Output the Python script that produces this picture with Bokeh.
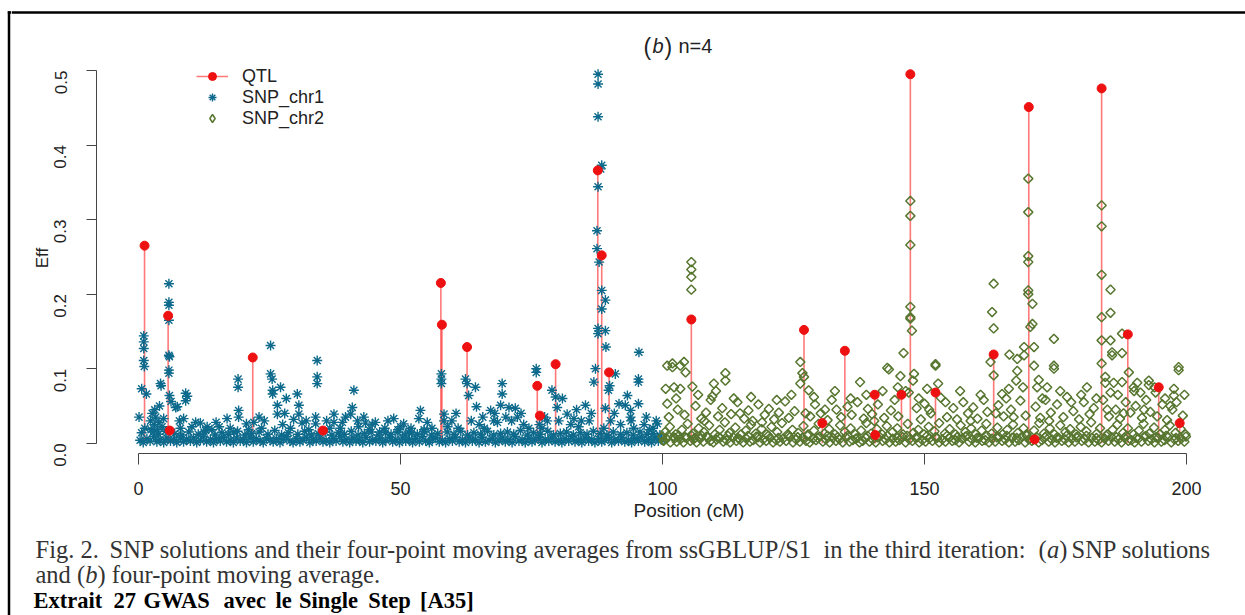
import math
from bokeh.plotting import figure
from bokeh.layouts import row, column
from bokeh.models import (Range1d, FixedTicker, PrintfTickFormatter, Legend, LegendItem, Title,
                          ColumnDataSource, CDSView, IndexFilter)
from bokeh.core.properties import value
from bokeh.embed import file_html
from bokeh.resources import INLINE

# ---------------- data ----------------
x_ticks = [0, 50, 100, 150, 200]
y_ticks = [0.0, 0.1, 0.2, 0.3, 0.4, 0.5]

qtl_pos = [1.15, 5.65, 5.95, 21.8, 35.2, 57.7, 57.9, 62.7, 76.1, 76.6, 79.6, 87.65, 88.4, 89.8,
           105.5, 127.0, 130.5, 134.8, 140.5, 140.6, 145.6, 147.3, 152.1, 163.2, 169.9, 171.0,
           183.8, 188.8, 194.7, 198.7]
qtl_eff = [0.265, 0.171, 0.017, 0.115, 0.017, 0.215, 0.159, 0.129, 0.077, 0.037, 0.106, 0.366, 0.252, 0.095,
           0.166, 0.152, 0.027, 0.124, 0.065, 0.011, 0.065, 0.495, 0.068, 0.119, 0.451, 0.005,
           0.476, 0.146, 0.075, 0.027]

# chromosome 1 SNP solutions: low band near zero
chr1_base = [
    (0.3,.004),(0.9,.001),(1.6,.006),(2.2,.003),(2.9,.009),(3.5,.002),(4.1,.005),(4.8,.001),(5.4,.007),(6.1,.003),
    (6.7,.005),(7.3,.001),(8.0,.008),(8.6,.002),(9.2,.005),(9.9,.003),(10.5,.007),(11.1,.001),(11.8,.004),(12.4,.009),
    (13.0,.002),(13.7,.005),(14.3,.001),(14.9,.006),(15.6,.003),(16.2,.008),(16.8,.002),(17.5,.004),(18.1,.001),(18.7,.007),
    (19.4,.003),(20.0,.005),(20.6,.001),(21.3,.008),(21.9,.002),(22.5,.006),(23.2,.003),(23.8,.001),(24.4,.007),(25.1,.004),
    (25.7,.002),(26.3,.006),(27.0,.001),(27.6,.005),(28.2,.009),(28.9,.003),(29.5,.001),(30.1,.006),(30.8,.002),(31.4,.004),
    (32.0,.008),(32.7,.001),(33.3,.005),(33.9,.003),(34.6,.007),(35.2,.002),(35.8,.004),(36.5,.001),(37.1,.006),(37.7,.003),
    (38.4,.009),(39.0,.002),(39.6,.005),(40.3,.001),(40.9,.007),(41.5,.003),(42.2,.004),(42.8,.001),(43.4,.008),(44.1,.002),
    (44.7,.005),(45.3,.003),(46.0,.006),(46.6,.001),(47.2,.004),(47.9,.008),(48.5,.002),(49.1,.005),(49.8,.001),(50.4,.007),
    (51.0,.003),(51.7,.005),(52.3,.001),(52.9,.006),(53.6,.002),(54.2,.009),(54.8,.003),(55.5,.001),(56.1,.005),(56.7,.007),
    (57.4,.002),(58.0,.004),(58.6,.001),(59.3,.006),(59.9,.003),(60.5,.008),(61.2,.002),(61.8,.005),(62.4,.001),(63.1,.007),
    (63.7,.003),(64.3,.005),(65.0,.001),(65.6,.008),(66.2,.002),(66.9,.004),(67.5,.006),(68.1,.001),(68.8,.003),(69.4,.007),
    (70.0,.002),(70.7,.005),(71.3,.001),(71.9,.009),(72.6,.003),(73.2,.005),(73.8,.001),(74.5,.006),(75.1,.002),(75.7,.004),
    (76.4,.008),(77.0,.001),(77.6,.005),(78.3,.003),(78.9,.007),(79.5,.002),(80.2,.004),(80.8,.001),(81.4,.006),(82.1,.003),
    (82.7,.009),(83.3,.002),(84.0,.005),(84.6,.001),(85.2,.007),(85.9,.003),(86.5,.005),(87.1,.001),(87.8,.006),(88.4,.002),
    (89.0,.004),(89.7,.008),(90.3,.001),(90.9,.005),(91.6,.003),(92.2,.007),(92.8,.002),(93.5,.004),(94.1,.001),(94.7,.006),
    (95.4,.003),(96.0,.008),(96.6,.002),(97.3,.005),(97.9,.001),(98.5,.007),(99.2,.003),(99.8,.005),
    (0.6,.014),(2.4,.018),(3.8,.012),(5.1,.016),(6.9,.013),(8.3,.011),(9.6,.015),(11.4,.012),(12.8,.017),(14.6,.011),
    (15.9,.014),(17.2,.012),(18.9,.016),(20.3,.011),(21.6,.013),(23.0,.015),(24.7,.012),(26.0,.017),(27.3,.011),(28.6,.014),
    (30.4,.012),(31.7,.016),(33.0,.011),(34.3,.013),(35.6,.015),(36.9,.011),(38.2,.014),(39.3,.012),(40.6,.016),(41.9,.011),
    (43.1,.013),(44.4,.015),(45.8,.011),(47.1,.014),(48.2,.012),(49.5,.015),(50.9,.011),(52.1,.014),(53.2,.012),(54.5,.016),
    (55.9,.011),(57.1,.013),(58.9,.015),(60.2,.012),(61.5,.016),(62.8,.011),(64.0,.014),(65.3,.012),(66.6,.016),(67.8,.011),
    (69.1,.013),(70.4,.015),(71.6,.012),(72.9,.017),(74.2,.011),(75.4,.014),(76.7,.012),(78.1,.016),(79.2,.011),(80.5,.013),
    (81.7,.015),(83.0,.011),(84.3,.014),(85.6,.012),(86.8,.016),(88.1,.013),(89.4,.011),(90.6,.015),(92.0,.012),(93.2,.014),
    (94.4,.011),(95.7,.015),(97.0,.012),(98.2,.013),(99.5,.011),
]
# chromosome 1 SNP solutions: raised values
chr1_peaks = [
    (0.1,.035),(0.6,.073),(1.0,.144),(1.0,.136),(1.0,.127),(1.0,.111),(1.1,.103),(1.5,.066),(1.2,.020),
    (2.3,.030),(2.6,.040),(3.0,.025),(3.3,.035),(3.6,.018),(3.9,.028),(4.2,.080),(4.3,.077),(4.5,.022),(4.8,.033),(2.8,.015),
    (5.8,.214),(5.8,.189),(5.8,.185),(5.8,.165),(5.8,.118),(5.9,.116),(5.8,.098),(5.8,.094),(5.9,.064),(6.2,.056),(7.1,.048),(7.4,.049),
    (8.6,.033),(9.0,.067),(9.0,.057),(9.3,.063),(8.0,.020),
    (10.9,.028),(11.8,.027),(13.1,.022),(12.5,.015),(14.0,.018),
    (16.9,.033),(19.0,.086),(19.0,.075),(19.1,.044),(19.1,.035),(17.5,.020),(18.2,.015),
    (22.0,.028),(23.5,.020),(24.0,.030),(21.0,.018),
    (25.2,.131),(25.2,.093),(25.5,.086),(25.6,.071),(25.6,.066),(27.1,.075),(28.2,.060),(26.5,.051),(26.5,.039),(27.5,.025),(29.0,.020),
    (30.3,.066),(30.6,.051),(30.6,.039),(31.2,.027),(32.5,.018),(34.1,.111),(34.1,.089),(34.1,.080),(33.8,.035),(33.8,.026),
    (37.3,.039),(37.3,.028),(36.5,.020),(38.5,.020),(39.5,.035),(40.5,.039),
    (41.1,.071),(40.8,.048),(43.0,.035),(43.3,.027),(42.0,.022),(44.0,.018),
    (45.2,.028),(47.0,.020),(48.7,.033),(46.0,.015),(49.5,.018),
    (50.6,.026),(53.5,.033),(52.0,.020),(51.5,.015),(54.5,.018),(53.8,.044),
    (57.8,.093),(57.8,.086),(57.8,.080),(58.3,.039),(58.3,.030),(56.0,.020),(59.0,.022),
    (62.4,.086),(62.7,.080),(64.3,.075),(63.0,.064),(64.5,.049),(61.0,.020),(63.5,.030),(65.0,.025),
    (67.2,.044),(68.5,.028),(69.4,.080),(69.4,.066),(69.1,.051),(66.0,.020),(67.8,.030),
    (70.7,.048),(71.9,.047),(72.3,.035),(73.5,.025),(74.5,.020),(71.2,.030),
    (75.9,.100),(75.9,.095),(78.0,.030),(78.9,.071),(79.6,.062),(79.9,.048),(77.0,.020),(76.5,.025),
    (80.9,.060),(81.8,.039),(83.1,.033),(82.5,.025),(84.0,.022),(84.5,.030),
    (85.3,.051),(86.9,.082),(87.2,.100),(87.7,.495),(87.7,.482),(87.7,.438),(88.4,.373),(88.2,.368),(87.7,.344),
    (87.5,.285),(87.5,.261),(87.9,.243),(88.4,.205),(89.1,.192),(88.4,.180),(87.7,.154),(89.1,.151),(87.7,.147),
    (89.2,.129),(89.7,.071),(89.1,.047),(90.1,.030),(89.9,.077),(86.0,.030),(88.8,.020),
    (91.0,.093),(91.7,.053),(93.3,.064),(92.9,.051),(93.9,.035),(93.9,.044),(92.0,.025),(94.5,.020),
    (95.5,.122),(95.4,.086),(95.4,.082),(95.4,.053),(96.5,.025),(97.5,.018),(99.0,.026),(98.2,.020),
    (3.1,.045),(4.0,.050),(7.8,.030),(10.2,.022),(14.8,.028),(15.4,.022),(20.6,.026),(23.0,.035),
    (27.9,.040),(29.6,.032),(32.0,.030),(35.9,.030),(38.9,.028),(41.8,.030),(44.6,.025),(47.6,.030),
    (50.0,.022),(55.1,.028),(59.8,.030),(60.6,.040),(65.7,.035),(68.0,.040),(70.1,.035),(73.0,.040),
    (77.5,.035),(80.2,.030),(83.6,.045),(86.4,.040),(90.8,.040),(94.0,.030),(96.9,.035),(98.8,.030),
]

# chromosome 2 SNP solutions: low band near zero
chr2_base = [
    (100.2,.003),(100.8,.006),(101.5,.001),(102.1,.008),(102.7,.002),(103.4,.005),(104.0,.001),(104.6,.007),(105.3,.003),(105.9,.005),
    (106.5,.001),(107.2,.006),(107.8,.002),(108.4,.009),(109.1,.003),(109.7,.001),(110.3,.005),(111.0,.007),(111.6,.002),(112.2,.004),
    (112.9,.001),(113.5,.008),(114.1,.003),(114.8,.005),(115.4,.001),(116.0,.006),(116.7,.002),(117.3,.004),(117.9,.009),(118.6,.001),
    (119.2,.005),(119.8,.003),(120.5,.007),(121.1,.001),(121.7,.004),(122.4,.002),(123.0,.006),(123.6,.003),(124.3,.008),(124.9,.001),
    (125.5,.005),(126.2,.002),(126.8,.007),(127.4,.003),(128.1,.001),(128.7,.006),(129.3,.004),(130.0,.009),(130.6,.002),(131.2,.005),
    (131.9,.001),(132.5,.007),(133.1,.003),(133.8,.005),(134.4,.001),(135.0,.008),(135.7,.002),(136.3,.004),(136.9,.006),(137.6,.001),
    (138.2,.003),(138.8,.007),(139.5,.002),(140.1,.005),(140.7,.001),(141.4,.009),(142.0,.003),(142.6,.005),(143.3,.001),(143.9,.006),
    (144.5,.002),(145.2,.004),(145.8,.008),(146.4,.001),(147.1,.005),(147.7,.003),(148.3,.007),(149.0,.001),(149.6,.004),(150.2,.002),
    (150.9,.006),(151.5,.003),(152.1,.008),(152.8,.001),(153.4,.005),(154.0,.002),(154.7,.007),(155.3,.003),(155.9,.004),(156.6,.001),
    (157.2,.006),(157.8,.009),(158.5,.002),(159.1,.005),(159.7,.001),(160.4,.007),(161.0,.003),(161.6,.004),(162.3,.001),(162.9,.006),
    (163.5,.002),(164.2,.008),(164.8,.003),(165.4,.005),(166.1,.001),(166.7,.007),(167.3,.002),(168.0,.004),(168.6,.009),(169.2,.001),
    (169.9,.005),(170.5,.003),(171.1,.006),(171.8,.001),(172.4,.004),(173.0,.008),(173.7,.002),(174.3,.005),(174.9,.001),(175.6,.007),
    (176.2,.003),(176.8,.005),(177.5,.001),(178.1,.006),(178.7,.002),(179.4,.009),(180.0,.003),(180.6,.005),(181.3,.001),(181.9,.007),
    (182.5,.002),(183.2,.004),(183.8,.001),(184.4,.006),(185.1,.003),(185.7,.008),(186.3,.002),(187.0,.005),(187.6,.001),(188.2,.007),
    (188.9,.003),(189.5,.004),(190.1,.001),(190.8,.006),(191.4,.002),(192.0,.009),(192.7,.003),(193.3,.005),(193.9,.001),(194.6,.007),
    (195.2,.002),(195.8,.004),(196.5,.008),(197.1,.001),(197.7,.005),(198.4,.003),(199.0,.006),(199.6,.002),
    (100.5,.015),(101.4,.022),(102.5,.012),(103.7,.018),(104.8,.026),(105.8,.013),(106.9,.020),(107.9,.015),(108.9,.024),(110.0,.012),
    (110.9,.018),(111.9,.028),(112.8,.014),(113.9,.021),(115.0,.012),(115.9,.017),(116.9,.025),(117.8,.013),(118.9,.019),(119.9,.012),
    (120.8,.022),(121.9,.015),(122.8,.027),(123.9,.012),(124.8,.018),(125.9,.014),(126.9,.023),(127.8,.012),(128.9,.017),(129.8,.026),
    (130.9,.013),(131.8,.019),(132.9,.012),(133.9,.024),(134.8,.015),(135.9,.020),(136.8,.012),(137.9,.017),(138.9,.027),(139.8,.013),
    (140.9,.019),(141.9,.012),(142.8,.023),(143.9,.015),(144.8,.020),(145.9,.012),(146.8,.026),(147.9,.014),(148.8,.018),(149.9,.012),
    (150.8,.022),(151.9,.016),(152.8,.027),(153.9,.013),(154.8,.019),(155.9,.012),(156.9,.024),(157.8,.015),(158.9,.020),(159.8,.012),
    (160.9,.017),(161.8,.026),(162.8,.013),(163.9,.021),(164.9,.012),(165.8,.018),(166.9,.025),(167.8,.014),(168.9,.020),(169.5,.012),
    (170.9,.017),(171.9,.027),(172.8,.013),(173.9,.020),(174.8,.012),(175.9,.024),(176.9,.015),(177.8,.019),(178.9,.012),(179.8,.022),
    (180.9,.016),(181.8,.028),(182.9,.013),(183.5,.020),(184.9,.012),(185.9,.018),(186.8,.025),(187.9,.014),(188.8,.020),(189.9,.012),
    (190.9,.017),(191.8,.026),(192.9,.013),(193.8,.021),(194.9,.012),(195.9,.018),(196.8,.024),(197.9,.014),(198.9,.019),(199.8,.012),
    (100.0,.009),(101.1,.010),(102.4,.007),(103.1,.010),(104.3,.008),(105.6,.010),(106.2,.007),(107.5,.010),(108.7,.008),(110.6,.009),
    (112.5,.010),(114.4,.007),(116.3,.010),(118.2,.008),(120.2,.010),(122.1,.007),(124.0,.010),(125.8,.008),(127.7,.010),(129.6,.007),
    (131.5,.010),(133.4,.008),(135.3,.010),(137.2,.007),(139.1,.010),(141.0,.008),(142.9,.010),(144.8,.007),(146.7,.010),(148.6,.008),
    (150.5,.010),(152.4,.007),(154.3,.010),(156.2,.008),(158.1,.010),(160.0,.007),(161.9,.010),(163.8,.008),(165.7,.010),(167.6,.007),
    (169.5,.010),(171.4,.008),(173.3,.010),(175.2,.007),(177.1,.010),(179.0,.008),(180.9,.010),(182.8,.007),(184.7,.010),(186.6,.008),
    (188.5,.010),(190.4,.007),(192.3,.010),(194.2,.008),(196.1,.010),(198.0,.007),(199.9,.009),
]
# chromosome 2 SNP solutions: raised values
chr2_peaks = [
    (100.9,.053),(101.2,.035),(102.9,.045),(104.2,.038),(106.3,.050),(107.4,.033),(108.3,.041),(109.2,.058),(110.6,.036),(111.4,.047),
    (113.1,.039),(114.3,.055),(115.6,.033),(116.4,.044),(117.2,.030),(118.3,.052),(119.5,.038),(120.3,.046),(121.3,.032),(122.2,.041),
    (123.4,.056),(124.1,.034),(125.2,.043),(128.2,.036),(129.1,.052),(130.2,.040),(131.5,.031),(132.3,.058),(133.2,.045),(134.1,.035),
    (135.3,.049),(136.1,.038),(137.2,.055),(138.4,.033),(139.2,.046),(140.0,.039),(141.1,.052),(142.3,.034),(143.6,.044),(144.3,.058),
    (145.0,.036),(148.5,.047),(149.3,.032),(150.0,.053),(151.2,.040),(153.1,.061),(154.3,.035),(155.5,.047),(156.2,.032),(157.4,.055),
    (158.3,.040),(159.3,.048),(160.1,.033),(161.3,.058),(162.0,.042),(164.1,.051),(165.1,.036),(166.5,.045),(168.3,.057),(169.3,.037),
    (171.2,.049),(172.1,.034),(173.1,.058),(174.1,.041),(175.3,.052),(176.5,.035),(177.2,.062),(178.4,.043),(179.5,.032),(180.4,.055),
    (181.5,.039),(182.3,.047),(184.1,.058),(185.2,.036),(186.5,.045),(187.3,.033),(188.4,.055),(189.3,.041),(190.3,.050),(191.5,.034),
    (192.3,.058),(193.1,.042),(194.4,.036),(195.4,.052),(196.3,.031),(197.3,.045),(198.1,.055),(199.3,.037),
    (100.6,.073),(101.9,.107),(101.9,.102),(102.2,.075),(103.4,.104),(103.4,.073),(104.1,.109),(104.4,.095),
    (105.5,.243),(105.5,.233),(105.5,.223),(105.5,.206),(105.7,.076),(100.9,.104),
    (109.8,.080),(109.5,.063),(112.0,.094),(112.0,.084),(113.6,.060),
    (126.3,.109),(126.7,.094),(127.0,.089),(126.3,.080),(127.9,.071),
    (137.7,.082),(142.9,.101),(143.2,.099),(145.4,.090),(146.0,.121),(147.0,.068),(146.4,.070),
    (147.3,.325),(147.3,.305),(147.3,.266),(147.3,.183),(147.3,.169),(147.3,.167),(147.6,.151),(148.0,.093),(147.8,.084),
    (150.5,.073),(152.1,.104),(152.1,.106),
    (162.6,.109),(162.9,.176),(163.2,.214),(163.2,.154),(163.2,.091),(164.8,.066),(166.1,.073),(166.2,.119),
    (167.5,.084),(167.7,.113),(167.7,.097),(169.0,.118),(169.0,.129),
    (169.8,.355),(169.8,.310),(169.8,.251),(169.8,.243),(169.8,.205),(169.8,.200),(170.6,.187),(170.6,.160),(170.2,.156),
    (170.9,.129),(170.9,.104),(171.5,.075),(173.4,.075),(174.7,.140),(174.7,.104),(174.7,.100),(172.5,.060),
    (181.0,.075),(183.8,.319),(183.8,.291),(183.8,.226),(183.8,.169),(183.8,.138),(183.8,.107),(184.5,.089),(184.5,.081),
    (185.5,.206),(185.5,.175),(185.5,.138),(185.8,.122),(185.8,.118),(186.1,.081),(187.7,.147),(187.7,.121),(187.7,.082),
    (185.5,.068),(189.0,.095),(189.9,.075),
    (190.6,.081),(191.2,.068),(192.8,.084),(192.8,.078),(194.1,.068),(197.6,.073),(197.6,.064),(198.5,.102),(198.5,.098),
    (102.6,.060),(106.8,.065),(108.0,.030),(110.2,.070),(114.8,.040),(116.9,.062),(119.0,.028),(121.8,.058),
    (124.6,.065),(127.3,.040),(128.9,.062),(131.0,.045),(132.9,.070),(135.9,.060),(138.9,.065),(140.4,.030),
    (142.0,.070),(144.9,.075),(148.9,.060),(150.9,.045),(152.6,.080),(154.0,.055),(156.8,.070),(158.8,.030),
    (160.7,.065),(163.6,.040),(165.6,.060),(167.0,.035),(168.8,.075),(171.8,.085),(173.8,.030),(175.9,.070),
    (178.0,.055),(179.9,.065),(182.8,.060),(184.9,.045),(186.9,.065),(188.0,.040),(190.0,.070),(191.9,.045),
    (193.9,.075),(195.9,.060),(196.9,.050),(199.6,.065),
]

chr1_pts = chr1_base + chr1_peaks
chr2_pts = chr2_base + chr2_peaks
chr1_pos = [a for a, _ in chr1_pts]
chr1_eff = [b for _, b in chr1_pts]
chr2_pos = [a for a, _ in chr2_pts]
chr2_eff = [b for _, b in chr2_pts]

# ---------------- page geometry (px) ----------------
W, H = 1245, 615
LEFT_W = 11          # strip carrying the left page rule
TOP_H = 62           # strip carrying the top page rule and the panel title
MAIN_B = 530         # bottom of the chart figure (page y)
FL, FB = 96, 453     # frame left / bottom in page px (frame top = TOP_H)
X0, X1 = -8.02, 211.26
Y0 = -0.0138
Y1 = Y0 + (FB - TOP_H) / 745.4

SANS = "Liberation Sans"
SERIF = "Liberation Serif"
C1 = "#0d6a8c"
C2 = "#57762f"
CAP = "#333333"


def strip(w, h, xr, yr):
    f = figure(width=w, height=h, output_backend="svg", toolbar_location=None, title=None,
               x_range=Range1d(*xr), y_range=Range1d(*yr), x_axis_type=None, y_axis_type=None,
               min_border=0, min_border_left=0, min_border_right=0, min_border_top=0, min_border_bottom=0,
               frame_align=False)
    f.outline_line_color = None
    f.background_fill_color = "white"
    f.border_fill_color = "white"
    return f


def txt(f, px, py, s, size, font=SERIF, style="normal", color=CAP, align="left"):
    f.text(x=[px], y=[py], text=[s], text_font=value(font), text_font_size=size,
           text_font_style=style, text_color=color, text_align=align, text_baseline="alphabetic")


# left page rule
left = strip(LEFT_W, H, (0, LEFT_W), (H, 0))
left.segment(x0=[8.5, 7.3], y0=[10.8, 12], x1=[8.5, LEFT_W], y1=[H, 12], line_color="black", line_width=2.5)

# top page rule + panel title "(b) n=4"
top = strip(W - LEFT_W, TOP_H, (LEFT_W, W), (TOP_H, 0))
top.segment(x0=[LEFT_W], y0=[12], x1=[W], y1=[12], line_color="black", line_width=2.5)
txt(top, 643, 46, "(", "23px", font=SANS, color="#222222")
txt(top, 652, 45, "b", "20px", font=SANS, style="italic", color="#222222")
txt(top, 664, 46, ")", "23px", font=SANS, color="#222222")
txt(top, 678, 45, "n=4", "20px", font=SANS, color="#222222")

# ---------------- chart ----------------
p = figure(width=W - LEFT_W, height=MAIN_B - TOP_H, output_backend="svg", toolbar_location=None, title=None,
           x_range=Range1d(X0, X1), y_range=Range1d(Y0, Y1), frame_align=False,
           min_border_left=FL - LEFT_W, min_border_right=0, min_border_top=0,
           min_border_bottom=MAIN_B - FB)
p.outline_line_color = None
p.xgrid.visible = False
p.ygrid.visible = False
p.background_fill_color = "white"
p.border_fill_color = "white"

for ax in (p.xaxis[0], p.yaxis[0]):
    ax.axis_line_color = "#444444"
    ax.major_tick_line_color = "#444444"
    ax.minor_tick_line_color = None
    ax.major_tick_in = 0
    ax.major_label_text_font = SANS
    ax.major_label_text_color = "#222222"

p.xaxis.bounds = (0, 200)
p.xaxis.ticker = FixedTicker(ticks=x_ticks)
p.xaxis.major_tick_out = 11
p.xaxis.major_label_text_font_size = "18px"
p.xaxis.major_label_standoff = 17

p.yaxis.bounds = (0, 0.5)
p.yaxis.ticker = FixedTicker(ticks=y_ticks)
p.yaxis.formatter = PrintfTickFormatter(format="%.1f")
p.yaxis.major_tick_out = 10
p.yaxis.major_label_text_font_size = "17px"
p.yaxis.major_label_orientation = math.pi / 2
p.yaxis.major_label_standoff = 26
p.yaxis.axis_label = "Eff"
p.yaxis.axis_label_text_font = SANS
p.yaxis.axis_label_text_font_size = "17px"
p.yaxis.axis_label_text_font_style = "normal"
p.yaxis.axis_label_text_color = "#222222"
p.yaxis.axis_label_standoff = -6

# x axis title, set below the axis like R's xlab (the R plot region centre lies right of the crop)
p.add_layout(Title(text="Position (cM)", align="left", offset=633 - FL, standoff=0,
                   text_font=SANS, text_font_size="19px", text_font_style="normal",
                   text_color="#222222"), "below")

src2 = ColumnDataSource(data=dict(x=chr2_pos, y=chr2_eff))
seg = p.segment(x0=qtl_pos, y0=0, x1=qtl_pos, y1=qtl_eff, line_color="#ff2020", line_alpha=0.6, line_width=1.6)
s1 = p.scatter(chr1_pos, chr1_eff, marker="asterisk", size=10, line_color=C1, line_width=1.4)
s2 = p.scatter("x", "y", source=src2, marker="square", angle=math.pi / 4, size=6.5,
               fill_color=None, line_color=C2, line_width=1.5)
# open-diamond legend key drawn from the first chr2 SNP (hidden inside the dense band near zero)
s2_key = p.scatter("x", "y", source=src2, view=CDSView(filter=IndexFilter([0])), marker="diamond", size=8,
                   fill_color=None, line_color=C2, line_width=1.5)
dots = p.scatter(qtl_pos, qtl_eff, marker="circle", size=9, fill_color="#ee1111", line_color="#ee1111")

legend = Legend(items=[LegendItem(label="QTL", renderers=[seg, dots]),
                       LegendItem(label="SNP_chr1", renderers=[s1]),
                       LegendItem(label="SNP_chr2", renderers=[s2_key])],
                location=(100, 324.5), orientation="vertical",
                border_line_color=None, background_fill_alpha=0,
                label_text_font=SANS, label_text_font_size="18px", label_text_color="#222222",
                glyph_width=32, glyph_height=20, label_height=20, spacing=0, padding=0, margin=0,
                label_standoff=14)
p.add_layout(legend)

# ---------------- caption ----------------
cap = strip(W - LEFT_W, H - MAIN_B, (LEFT_W, W), (H, MAIN_B))
CS = "24.5px"
L1, L2, L3 = 549, 574, 600
txt(cap, 35, L1, "Fig. 2.", CS)
txt(cap, 109, L1, "SNP solutions and their four-point", CS)
txt(cap, 452, L1, "moving averages from ssGBLUP/S1", CS)
txt(cap, 823, L1, "in the third iteration:", CS)
txt(cap, 1038, L1, "(", CS)
txt(cap, 1046.5, L1, "a", CS, style="italic")
txt(cap, 1058.7, L1, ")", CS)
txt(cap, 1071, L1, "SNP solutions", CS)
txt(cap, 35, L2, "and", CS)
txt(cap, 76.5, L2, "(", CS)
txt(cap, 84.7, L2, "b", CS, style="italic")
txt(cap, 97, L2, ")", CS)
txt(cap, 111.3, L2, "four-point moving average.", CS)
for wx, word in [(33, "Extrait"), (113, "27"), (143, "GWAS"), (223, "avec"), (275, "le"),
                 (298.6, "Single"), (367.8, "Step"), (419.6, "[A35]")]:
    txt(cap, wx, L3, word, "22.5px", style="bold", color="black")

layout = row(left, column(top, p, cap, spacing=0), spacing=0)

open("out.html", "w").write(file_html(layout, INLINE))
